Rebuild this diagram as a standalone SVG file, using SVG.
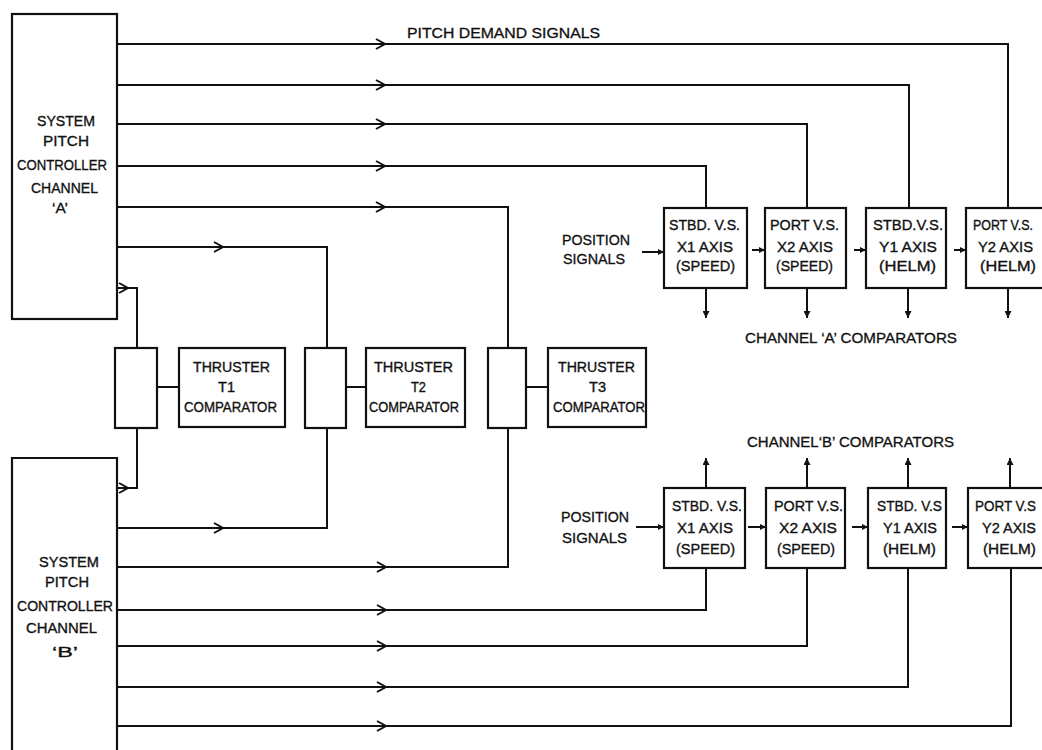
<svg xmlns="http://www.w3.org/2000/svg" xmlns:xlink="http://www.w3.org/1999/xlink" width="1042" height="750" viewBox="0 0 1042 750">
<style>
.box{fill:#fff;stroke:#111;stroke-width:2.2}
.ln{fill:none;stroke:#111;stroke-width:2}
.t{font-family:"Liberation Sans",Arial,sans-serif;font-size:15px;fill:#111;stroke:#111;stroke-width:0.35}
.s{font-family:"Liberation Sans",Arial,sans-serif;font-size:14px;fill:#111;stroke:#111;stroke-width:0.3}
</style>
<defs>
<path id="chev" d="M-9,-5 L0,0 L-9,5" fill="none" stroke="#111" stroke-width="2"/>
<marker id="ah" viewBox="0 0 10 10" refX="10" refY="5" markerUnits="userSpaceOnUse" markerWidth="11" markerHeight="7" orient="auto">
<path d="M0,0 L10,5 L0,10 z" fill="#111"/>
</marker>
<marker id="ahs" viewBox="0 0 10 10" refX="10" refY="5" markerUnits="userSpaceOnUse" markerWidth="7" markerHeight="6" orient="auto">
<path d="M0,0 L10,5 L0,10 z" fill="#111"/>
</marker>
</defs>
<rect width="1042" height="750" fill="#fff"/>

<g id="connectors">
<path class="ln" d="M117,44 H1008 V208"/>
<path class="ln" d="M117,85 H909 V208"/>
<path class="ln" d="M117,124 H807 V208"/>
<path class="ln" d="M117,166 H706 V208"/>
<path class="ln" d="M117,207 H508 V348"/>
<path class="ln" d="M117,247 H327 V348"/>
<path class="ln" d="M117,288 H137 V348"/>
<path class="ln" d="M117,488 H137 V428"/>
<path class="ln" d="M117,528 H327 V428"/>
<path class="ln" d="M117,567 H508 V428"/>
<path class="ln" d="M117,610 H706 V568"/>
<path class="ln" d="M117,646 H807 V568"/>
<path class="ln" d="M117,687 H908 V568"/>
<path class="ln" d="M117,726 H1011 V568"/>
<use xlink:href="#chev" x="385" y="44"/>
<use xlink:href="#chev" x="385" y="85"/>
<use xlink:href="#chev" x="385" y="124"/>
<use xlink:href="#chev" x="385" y="166"/>
<use xlink:href="#chev" x="385" y="207"/>
<use xlink:href="#chev" x="223" y="247"/>
<use xlink:href="#chev" x="128" y="288"/>
<use xlink:href="#chev" x="128" y="488"/>
<use xlink:href="#chev" x="223" y="528"/>
<use xlink:href="#chev" x="386" y="567"/>
<use xlink:href="#chev" x="386" y="610"/>
<use xlink:href="#chev" x="386" y="646"/>
<use xlink:href="#chev" x="386" y="687"/>
<use xlink:href="#chev" x="386" y="726"/>
<path class="ln" d="M157,387 H179"/>
<path class="ln" d="M346,387 H366"/>
<path class="ln" d="M526,387 H548"/>
<path class="ln" d="M642,252 H664" marker-end="url(#ahs)"/>
<path class="ln" d="M636,527 H664" marker-end="url(#ahs)"/>
<path class="ln" d="M752,250 H765" marker-end="url(#ahs)"/>
<path class="ln" d="M854,250 H866" marker-end="url(#ahs)"/>
<path class="ln" d="M954,250 H966" marker-end="url(#ahs)"/>
<path class="ln" d="M748,527 H766" marker-end="url(#ahs)"/>
<path class="ln" d="M852,527 H868" marker-end="url(#ahs)"/>
<path class="ln" d="M952,527 H968" marker-end="url(#ahs)"/>
<path class="ln" d="M706,288 V318" marker-end="url(#ah)"/>
<path class="ln" d="M807,288 V318" marker-end="url(#ah)"/>
<path class="ln" d="M908,288 V318" marker-end="url(#ah)"/>
<path class="ln" d="M1008,288 V318" marker-end="url(#ah)"/>
<path class="ln" d="M706,488 V458" marker-end="url(#ah)"/>
<path class="ln" d="M807,488 V458" marker-end="url(#ah)"/>
<path class="ln" d="M908,488 V458" marker-end="url(#ah)"/>
<path class="ln" d="M1010,488 V458" marker-end="url(#ah)"/>
</g>

<g id="ctrlA">
<rect class="box" x="12" y="14" width="105" height="305"/>
<text class="t" x="37" y="126" textLength="58" lengthAdjust="spacingAndGlyphs">SYSTEM</text>
<text class="t" x="43" y="146" textLength="46" lengthAdjust="spacingAndGlyphs">PITCH</text>
<text class="t" x="17" y="170" textLength="90" lengthAdjust="spacingAndGlyphs">CONTROLLER</text>
<text class="t" x="31" y="193" textLength="67" lengthAdjust="spacingAndGlyphs">CHANNEL</text>
<text class="t" x="52" y="213" textLength="16" lengthAdjust="spacingAndGlyphs">‘A’</text>
</g>

<g id="ctrlB">
<path class="box" d="M12,760 V458 H117 V760"/>
<text class="t" x="39" y="567" textLength="60" lengthAdjust="spacingAndGlyphs">SYSTEM</text>
<text class="t" x="45" y="587" textLength="44" lengthAdjust="spacingAndGlyphs">PITCH</text>
<text class="t" x="17" y="611" textLength="96" lengthAdjust="spacingAndGlyphs">CONTROLLER</text>
<text class="t" x="26" y="633" textLength="71" lengthAdjust="spacingAndGlyphs">CHANNEL</text>
<text class="t" x="52" y="657" textLength="26" lengthAdjust="spacingAndGlyphs">‘B’</text>
</g>

<g id="mux1"><rect class="box" x="115" y="348" width="42" height="80"/></g>
<g id="mux2"><rect class="box" x="305" y="348" width="41" height="80"/></g>
<g id="mux3"><rect class="box" x="488" y="348" width="38" height="80"/></g>

<g id="thrT1">
<rect class="box" x="179" y="348" width="106" height="79"/>
<text class="t" x="193" y="372" textLength="77" lengthAdjust="spacingAndGlyphs">THRUSTER</text>
<text class="t" x="218" y="392" textLength="17" lengthAdjust="spacingAndGlyphs">T1</text>
<text class="t" x="184" y="412" textLength="93" lengthAdjust="spacingAndGlyphs">COMPARATOR</text>
</g>
<g id="thrT2">
<rect class="box" x="366" y="348" width="99" height="79"/>
<text class="t" x="374" y="372" textLength="79" lengthAdjust="spacingAndGlyphs">THRUSTER</text>
<text class="t" x="411" y="392" textLength="15" lengthAdjust="spacingAndGlyphs">T2</text>
<text class="t" x="369" y="412" textLength="90" lengthAdjust="spacingAndGlyphs">COMPARATOR</text>
</g>
<g id="thrT3">
<rect class="box" x="548" y="348" width="98" height="79"/>
<text class="t" x="558" y="372" textLength="77" lengthAdjust="spacingAndGlyphs">THRUSTER</text>
<text class="t" x="589" y="392" textLength="17" lengthAdjust="spacingAndGlyphs">T3</text>
<text class="t" x="553" y="412" textLength="92" lengthAdjust="spacingAndGlyphs">COMPARATOR</text>
</g>

<g id="labels">
<text class="s" x="407" y="38" textLength="193" lengthAdjust="spacingAndGlyphs">PITCH DEMAND SIGNALS</text>
<text class="s" x="562" y="245" textLength="68" lengthAdjust="spacingAndGlyphs">POSITION</text>
<text class="s" x="563" y="264" textLength="62" lengthAdjust="spacingAndGlyphs">SIGNALS</text>
<text class="s" x="561" y="522" textLength="68" lengthAdjust="spacingAndGlyphs">POSITION</text>
<text class="s" x="562" y="543" textLength="65" lengthAdjust="spacingAndGlyphs">SIGNALS</text>
<text class="s" x="745" y="343" textLength="212" lengthAdjust="spacingAndGlyphs">CHANNEL ‘A’ COMPARATORS</text>
<text class="s" x="747" y="447" textLength="207" lengthAdjust="spacingAndGlyphs">CHANNEL‘B’ COMPARATORS</text>
</g>

<g id="vsA1">
<rect class="box" x="664" y="208" width="83" height="80"/>
<text class="t" x="669" y="230" textLength="71" lengthAdjust="spacingAndGlyphs">STBD. V.S.</text>
<text class="t" x="677" y="252" textLength="56" lengthAdjust="spacingAndGlyphs">X1 AXIS</text>
<text class="t" x="676" y="271" textLength="59" lengthAdjust="spacingAndGlyphs">(SPEED)</text>
</g>
<g id="vsA2">
<rect class="box" x="765" y="208" width="81" height="80"/>
<text class="t" x="770" y="230" textLength="69" lengthAdjust="spacingAndGlyphs">PORT V.S.</text>
<text class="t" x="777" y="252" textLength="56" lengthAdjust="spacingAndGlyphs">X2 AXIS</text>
<text class="t" x="776" y="271" textLength="57" lengthAdjust="spacingAndGlyphs">(SPEED)</text>
</g>
<g id="vsA3">
<rect class="box" x="866" y="208" width="80" height="80"/>
<text class="t" x="873" y="230" textLength="70" lengthAdjust="spacingAndGlyphs">STBD.V.S.</text>
<text class="t" x="879" y="252" textLength="58" lengthAdjust="spacingAndGlyphs">Y1 AXIS</text>
<text class="t" x="879" y="271" textLength="57" lengthAdjust="spacingAndGlyphs">(HELM)</text>
</g>
<g id="vsA4">
<rect class="box" x="966" y="208" width="90" height="80"/>
<text class="t" x="973" y="230" textLength="60" lengthAdjust="spacingAndGlyphs">PORT V.S.</text>
<text class="t" x="978" y="252" textLength="55" lengthAdjust="spacingAndGlyphs">Y2 AXIS</text>
<text class="t" x="980" y="271" textLength="56" lengthAdjust="spacingAndGlyphs">(HELM)</text>
</g>

<g id="vsB1">
<rect class="box" x="664" y="488" width="81" height="80"/>
<text class="t" x="672" y="511" textLength="70" lengthAdjust="spacingAndGlyphs">STBD. V.S.</text>
<text class="t" x="677" y="533" textLength="56" lengthAdjust="spacingAndGlyphs">X1 AXIS</text>
<text class="t" x="676" y="554" textLength="59" lengthAdjust="spacingAndGlyphs">(SPEED)</text>
</g>
<g id="vsB2">
<rect class="box" x="766" y="488" width="79" height="80"/>
<text class="t" x="774" y="511" textLength="69" lengthAdjust="spacingAndGlyphs">PORT V.S.</text>
<text class="t" x="779" y="533" textLength="58" lengthAdjust="spacingAndGlyphs">X2 AXIS</text>
<text class="t" x="777" y="554" textLength="58" lengthAdjust="spacingAndGlyphs">(SPEED)</text>
</g>
<g id="vsB3">
<rect class="box" x="868" y="488" width="78" height="80"/>
<text class="t" x="877" y="511" textLength="65" lengthAdjust="spacingAndGlyphs">STBD. V.S</text>
<text class="t" x="883" y="533" textLength="54" lengthAdjust="spacingAndGlyphs">Y1 AXIS</text>
<text class="t" x="883" y="554" textLength="53" lengthAdjust="spacingAndGlyphs">(HELM)</text>
</g>
<g id="vsB4">
<rect class="box" x="968" y="488" width="90" height="80"/>
<text class="t" x="975" y="511" textLength="61" lengthAdjust="spacingAndGlyphs">PORT V.S</text>
<text class="t" x="982" y="533" textLength="54" lengthAdjust="spacingAndGlyphs">Y2 AXIS</text>
<text class="t" x="983" y="554" textLength="53" lengthAdjust="spacingAndGlyphs">(HELM)</text>
</g>
</svg>
